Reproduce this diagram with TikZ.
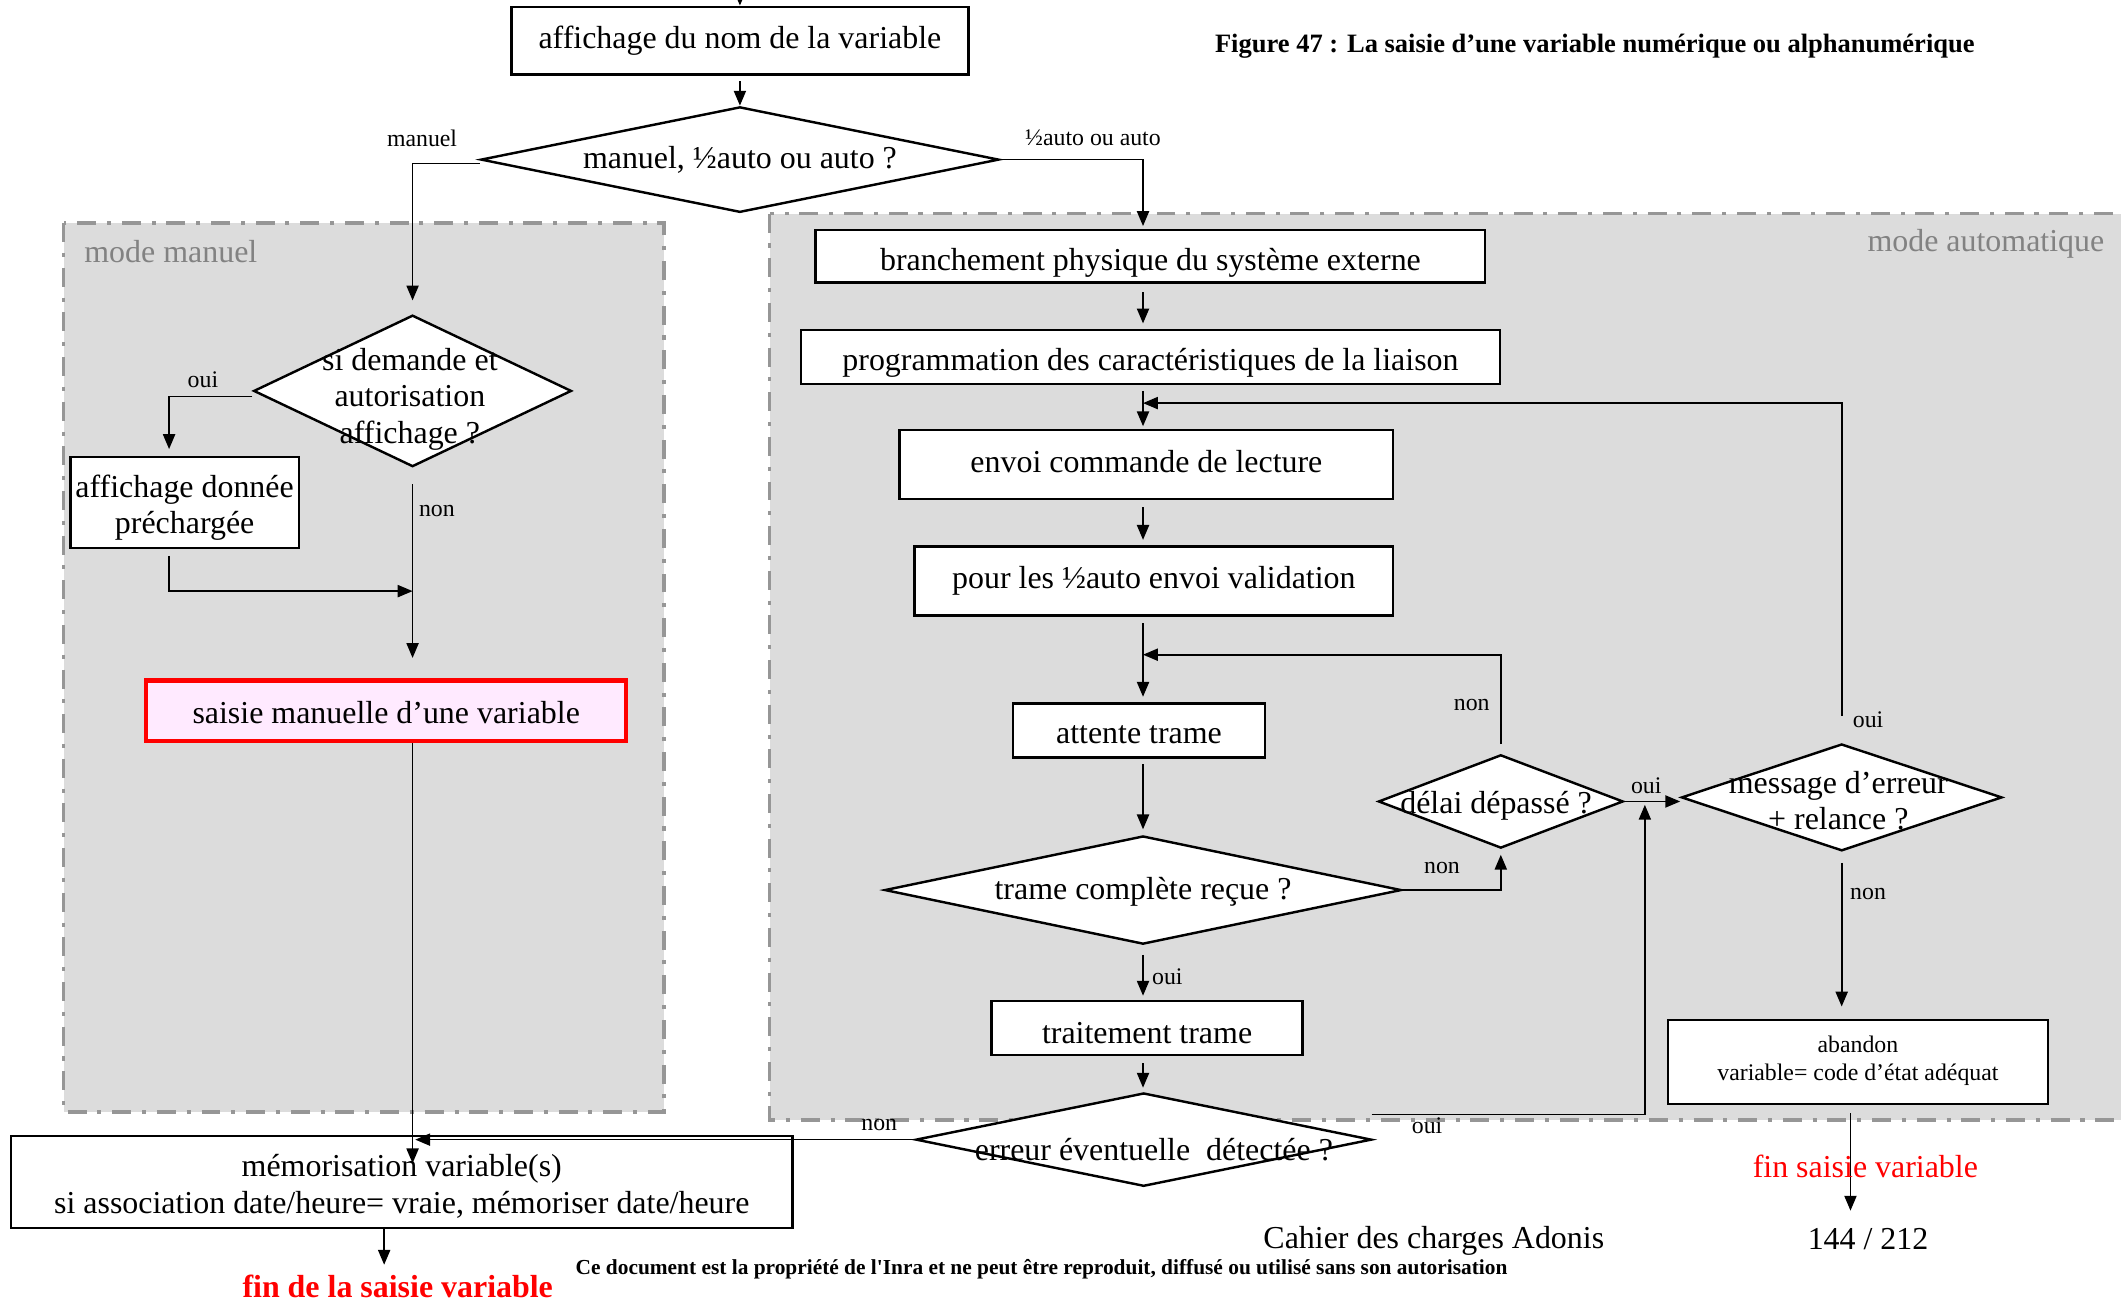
\documentclass[tikz,border=0pt]{standalone}
\usepackage{fontspec}
\setmainfont{Liberation Serif}[Ligatures=TeXOff]
\usetikzlibrary{shapes.geometric,arrows.meta,calc}
\definecolor{regfill}{RGB}{220,220,220}
\definecolor{regline}{RGB}{150,150,150}
\definecolor{pinkfill}{RGB}{255,234,255}
\definecolor{labgray}{RGB}{130,130,130}
\newcommand\mainsz{\fontsize{11.8}{13.5}\selectfont}
\newcommand\smallsz{\fontsize{8.8}{10.5}\selectfont}
\tikzset{
  box/.style={draw, line width=0.9pt, fill=white, inner sep=0pt, font=\mainsz, align=center},
  dia/.style={draw, diamond, line width=0.9pt, fill=white, inner sep=0pt},
  dtext/.style={font=\mainsz, align=center, inner sep=0pt},
  arr/.style={line width=0.6pt, -{Triangle[length=5.5pt,width=4.5pt]}},
  lbl/.style={font=\smallsz, inner sep=0pt},
  region/.style={fill=regfill, draw=regline, line width=1.3pt, dash pattern=on 7pt off 4pt on 1.5pt off 4pt},
}
\begin{document}
\begin{tikzpicture}[x=0.5pt,y=-0.5pt]
\useasboundingbox (0,0) rectangle (1568,962);
% regions
\draw[region] (47,165) rectangle (491,822);
\draw[region] (569,158) rectangle (1600,828);
\node[font=\mainsz, text=labgray, anchor=west, inner sep=0pt] (lman) at (62,186) {mode manuel};
\node[font=\mainsz, text=labgray, anchor=east, inner sep=0pt] (laut) at (1556,180) {mode automatique};
% title
\node[font=\fontsize{9.8}{12}\selectfont\bfseries, inner sep=0pt] (title) at (1179,34) {Figure 47 : La saisie d’une variable numérique ou alphanumérique};
% coordinates
\coordinate (spine) at (845,0);
\coordinate (topin) at (547,-20);
% nodes
\node[box, minimum width=169pt, minimum height=25pt] (A) at (547,30) {affichage du nom de la variable};
\node[dia, minimum width=191.5pt, minimum height=39pt] (D1) at (547,118) {};
\node[dtext] (D1t) at (547,118) {manuel, ½auto ou auto ?};
\node[dia, minimum width=117.5pt, minimum height=56pt] (D2) at (305,289) {};
\node[dtext] (D2t) at (303,295) {si demande et\\autorisation\\affichage ?};
\node[box, minimum width=84.5pt, minimum height=33.5pt] (B8) at (136.5,371.5) {};
\node[dtext] (B8t) at (136.5,375.5) {affichage donnée\\préchargée};
\node[box, draw=red, line width=1.6pt, fill=pinkfill, minimum width=177.5pt, minimum height=22.5pt] (B9) at (285.5,525.5) {};
\node[dtext] (B9t) at (285.5,527) {saisie manuelle d’une variable};
\node[box, minimum width=289pt, minimum height=34pt] (B10) at (297,874) {};
\node[dtext] (B10t) at (297,877) {mémorisation variable(s)\\si association date/heure= vraie, mémoriser date/heure};
\node[box, minimum width=247.5pt, minimum height=19.5pt] (B1) at (850.5,189.5) {};
\node[dtext] (B1t) at (850.5,194.5) {branchement physique du système externe};
\node[box, minimum width=258.5pt, minimum height=20pt] (B2) at (850.5,264) {};
\node[dtext] (B2t) at (850.5,268) {programmation des caractéristiques de la liaison};
\node[box, minimum width=182.5pt, minimum height=25.5pt] (B3) at (847.5,343.5) {};
\node[dtext] (B3t) at (847.5,341.5) {envoi commande de lecture};
\node[box, minimum width=177pt, minimum height=25.5pt] (B4) at (853,429.5) {};
\node[dtext] (B4t) at (853,429.5) {pour les ½auto envoi validation};
\node[box, minimum width=93pt, minimum height=20pt] (B5) at (842,540) {};
\node[dtext] (B5t) at (842,543) {attente trame};
\node[dia, minimum width=191pt, minimum height=40pt] (D3) at (845,658) {};
\node[dtext] (D3t) at (845,659) {trame complète reçue ?};
\node[dia, minimum width=90.5pt, minimum height=34.5pt] (D4) at (1109.5,592.5) {};
\node[dtext] (D4t) at (1106,596) {délai dépassé ?};
\node[dia, minimum width=118.5pt, minimum height=39.5pt] (D5) at (1361.5,589.5) {};
\node[dtext] (D5t) at (1359,592) {message d’erreur\\+ relance ?};
\node[box, minimum width=140.5pt, minimum height=31pt] (B6) at (1373.5,785) {};
\node[dtext, font=\smallsz] (B6t) at (1373.5,784) {abandon\\variable= code d’état adéquat};
\node[box, minimum width=115pt, minimum height=20pt] (B7) at (848,760) {};
\node[dtext] (B7t) at (848,764) {traitement trame};
\node[dia, minimum width=168.5pt, minimum height=34.5pt] (Derr) at (845.5,842.5) {};
\node[dtext] (Derrt) at (853,850) {erreur éventuelle\ \ détectée ?};
% connector coordinates
\coordinate (loop1) at (845,298);
\coordinate (loop2) at (845,484);
\coordinate (errout) at (1014,824);
\coordinate (join) at (1216,595);
\coordinate (endR) at (1368,895);
\coordinate (memleft) at (307,845);
\coordinate (memin) at (305,860);
\coordinate (b8in) at (125,332);
\coordinate (merge) at (305,437);
\coordinate (endL) at (284,935);
% connectors
\draw[arr] (topin) -- (A.north);
\draw[arr, shorten <=2pt] (A) -- (D1);
\draw[arr, shorten >=5pt] ($(D1.west)+(0,3)$) -| (D2.north);
\draw[arr, shorten >=1pt] (D1.east) -| (spine |- B1.north);
\draw[arr, shorten <=3pt, shorten >=2pt] (B1.south -| spine) -- (B2.north -| spine);
\draw[arr, shorten <=2pt, shorten >=1pt] (B2.south -| spine) -- (B3.north -| spine);
\draw[arr, shorten <=10pt] (D5.north) |- (loop1);
\draw[arr, shorten <=2.5pt, shorten >=2pt] (B3.south -| spine) -- (B4.north -| spine);
\draw[arr, shorten <=2.5pt, shorten >=2pt] (B4.south -| spine) -- (B5.north -| spine);
\draw[arr, shorten <=3.5pt] (D4.north) |- (loop2);
\draw[arr, shorten <=2pt, shorten >=2pt] (B5.south -| spine) -- (D3.north -| spine);
\draw[arr, shorten >=2pt] (D3.east) -| (D4.south);
\draw[arr] (D4.east) -- (D4.east -| D5.west);
\draw[arr, shorten <=3.5pt, shorten >=1.5pt] (D3.south -| spine) -- (B7.north -| spine);
\draw[arr, shorten <=2.5pt, shorten >=1.5pt] (B7.south -| spine) -- (Derr.north -| spine);
\draw[arr] (errout) -| (join);
\draw[arr, shorten <=4pt, shorten >=4.5pt] (D5.south) -- (D5.south |- B6.north);
\draw[arr, shorten <=3pt] (B6.south -| endR) -- (endR);
\draw[arr] (Derr.west) -- (Derr.west -| memleft);
\draw[arr] (B9.south -| memin) -- (memin);
\draw[arr, shorten <=6pt, shorten >=7.5pt] (D2.south) -- (D2.south |- B9.north);
\draw[arr] ($(D2.west)+(0,4)$) -| (b8in);
\draw[arr, shorten <=2.5pt] (B8.south -| b8in) |- (merge);
\draw[arr] (B10.south -| endL) -- (endL);
% connector labels
\node[lbl] (l1) at (312,102) {manuel};
\node[lbl] (l2) at (808,102) {½auto ou auto};
\node[lbl] (l3) at (150,281) {oui};
\node[lbl] (l4) at (323,378) {non};
\node[lbl] (l5) at (1088,521) {non};
\node[lbl] (l6) at (1066,642) {non};
\node[lbl] (l7) at (1217,581) {oui};
\node[lbl] (l8) at (1381,532) {oui};
\node[lbl] (l9) at (1381,661) {non};
\node[lbl] (l10) at (863,722) {oui};
\node[lbl] (l11) at (650,832) {non};
\node[lbl] (l12) at (1055,832) {oui};
% end texts and footer
\node[font=\mainsz\bfseries, text=red, inner sep=0pt] (finL) at (294,951) {fin de la saisie variable};
\node[font=\mainsz, text=red, inner sep=0pt] (finR) at (1379,862) {fin saisie variable};
\node[font=\mainsz, inner sep=0pt] (cahier) at (1060,917) {Cahier des charges Adonis};
\node[font=\mainsz, inner sep=0pt] (page) at (1381,916) {144 / 212};
\node[font=\fontsize{7.9}{9}\selectfont\bfseries, inner sep=0pt] (foot) at (770,938) {Ce document est la propriété de l'Inra et ne peut être reproduit, diffusé ou utilisé sans son autorisation};
\end{tikzpicture}
\end{document}
